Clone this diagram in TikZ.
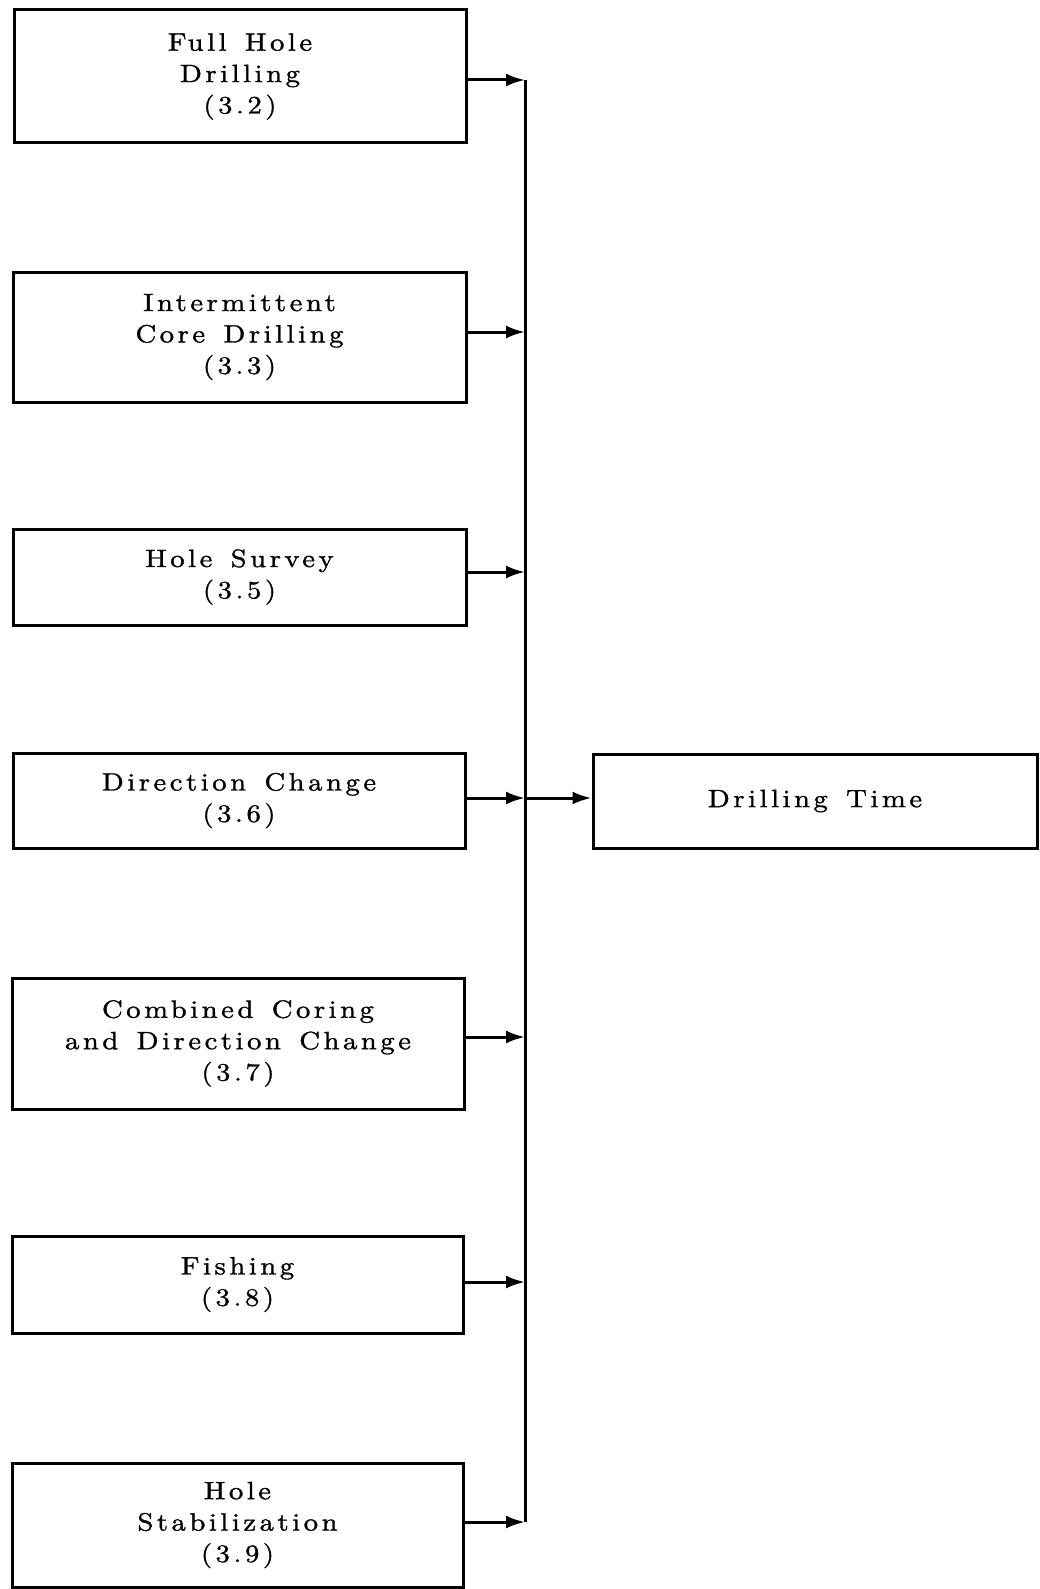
\documentclass[tikz,border=0pt]{standalone}
\usepackage{fontspec}
\usetikzlibrary{arrows.meta}
\newfontfamily\spacedrm{lmroman10-regular}[Extension=.otf,LetterSpace=14,WordSpace=1.4,FakeStretch=1.15,FakeBold=1.2]
\begin{document}
\begin{tikzpicture}[x=1pt,y=-1pt,
  box/.style={draw,line width=3pt,align=center,inner sep=0pt,
    font=\spacedrm\fontsize{25}{31.4}\selectfont},
  feed/.style={line width=3pt,-{Latex[length=19pt,width=13pt]}},
  busline/.style={line width=3pt}]
\useasboundingbox (0,0) rectangle (1040,1589);
% contributing activities
\node[box,minimum width=452pt,minimum height=133pt] (b1) at (240,76.5) {Full Hole\\Drilling\\(3.2)};
\node[box,minimum width=453pt,minimum height=130pt] (b2) at (239.5,337) {Intermittent\\Core Drilling\\(3.3)};
\node[box,minimum width=453pt,minimum height=96pt] (b3) at (239.5,577) {Hole Survey\\(3.5)};
\node[box,minimum width=452pt,minimum height=95pt] (b4) at (239,800.5) {Direction Change\\(3.6)};
\node[box,minimum width=452pt,minimum height=131pt] (b5) at (238,1043.5) {Combined Coring\\and Direction Change\\(3.7)};
\node[box,minimum width=451pt,minimum height=97pt] (b6) at (237.5,1284.5) {Fishing\\(3.8)};
\node[box,minimum width=451pt,minimum height=124pt] (b7) at (237.5,1525) {Hole\\Stabilization\\(3.9)};
% result
\node[box,minimum width=444pt,minimum height=94pt] (dt) at (815,801) {Drilling Time};
% collecting bus
\coordinate (j1) at (525,80);
\coordinate (j2) at (525,332);
\coordinate (j3) at (525,572);
\coordinate (j4) at (525,798);
\coordinate (j5) at (525,1037);
\coordinate (j6) at (525,1282);
\coordinate (j7) at (525,1522);
\draw[busline] (j1) -- (j7);
\draw[feed] (b1.east |- j1) -- (j1);
\draw[feed] (b2.east |- j2) -- (j2);
\draw[feed] (b3.east |- j3) -- (j3);
\draw[feed] (b4.east |- j4) -- (j4);
\draw[feed] (b5.east |- j5) -- (j5);
\draw[feed] (b6.east |- j6) -- (j6);
\draw[feed] (b7.east |- j7) -- (j7);
\draw[feed] (j4) -- (dt.west |- j4);
\end{tikzpicture}
\end{document}
